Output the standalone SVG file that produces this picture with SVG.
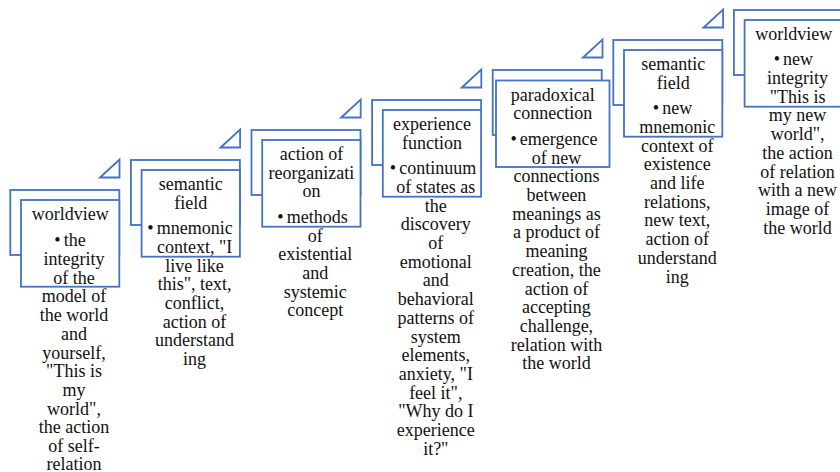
<svg xmlns="http://www.w3.org/2000/svg" width="840" height="472" viewBox="0 0 840 472">
<style>
.bk{fill:#fff;stroke:#4472C4;stroke-width:1.8}
.fr{fill:#fff;stroke:#4472C4;stroke-width:1.8}
.tri{fill:#fff;stroke:#4472C4;stroke-width:1.8;stroke-linejoin:miter}
.t{font-family:'Liberation Serif','Tinos','Times New Roman','DejaVu Serif',serif;font-size:18px;fill:#111;text-anchor:middle}
</style>
<rect width="840" height="472" fill="#fff"/>
<g id="connectors">
<polygon class="tri" points="100,177.5 119.5,159.5 119.5,177.5"/>
<polygon class="tri" points="220.6,147.5 240.1,129.5 240.1,147.5"/>
<polygon class="tri" points="341.2,117.5 360.7,99.5 360.7,117.5"/>
<polygon class="tri" points="461.8,87.5 481.3,69.5 481.3,87.5"/>
<polygon class="tri" points="583,57.5 602.5,39.5 602.5,57.5"/>
<polygon class="tri" points="703.6,27.5 723.1,9.5 723.1,27.5"/>
</g>
<g id="step1">
<rect class="bk" x="10.3" y="190" width="109" height="65"/>
<rect class="fr" x="21" y="200" width="98.3" height="86.7"/>
<text class="t"><tspan x="70.2" y="220">worldview</tspan><tspan x="70" y="246.3">•<tspan dx="3">the</tspan></tspan><tspan x="74" y="265">integrity</tspan><tspan x="74" y="283.7">of the</tspan><tspan x="74" y="302.4">model of</tspan><tspan x="74" y="321.1">the world</tspan><tspan x="74" y="339.8">and</tspan><tspan x="74" y="358.5">yourself,</tspan><tspan x="74" y="377.2">"This is</tspan><tspan x="74" y="395.9">my</tspan><tspan x="74" y="414.6">world",</tspan><tspan x="74" y="433.3">the action</tspan><tspan x="74" y="452">of self-</tspan><tspan x="74" y="470">relation</tspan></text>
</g>
<g id="step2">
<rect class="bk" x="130.9" y="160" width="109" height="65"/>
<rect class="fr" x="141.6" y="170" width="98.3" height="86.7"/>
<text class="t"><tspan x="190.8" y="190">semantic</tspan><tspan x="190.8" y="208.7">field</tspan><tspan x="190" y="234.2">•<tspan dx="3">mnemonic</tspan></tspan><tspan x="194.6" y="252.9">context, "I</tspan><tspan x="194.6" y="271.6">live like</tspan><tspan x="194.6" y="290.3">this", text,</tspan><tspan x="194.6" y="309">conflict,</tspan><tspan x="194.6" y="327.7">action of</tspan><tspan x="194.6" y="346.4">understand</tspan><tspan x="194.6" y="365.1">ing</tspan></text>
</g>
<g id="step3">
<rect class="bk" x="251.5" y="130" width="109" height="65"/>
<rect class="fr" x="262.2" y="140" width="98.3" height="86.7"/>
<text class="t"><tspan x="311.4" y="160">action of</tspan><tspan x="311.4" y="178.7">reorganizati</tspan><tspan x="311.4" y="197.4">on</tspan><tspan x="312.5" y="222.9">•<tspan dx="3">methods</tspan></tspan><tspan x="315.2" y="241.6">of</tspan><tspan x="315.2" y="260.3">existential</tspan><tspan x="315.2" y="279">and</tspan><tspan x="315.2" y="297.7">systemic</tspan><tspan x="315.2" y="316.4">concept</tspan></text>
</g>
<g id="step4">
<rect class="bk" x="372.1" y="100" width="109" height="65"/>
<rect class="fr" x="382.8" y="110" width="98.3" height="86.7"/>
<text class="t"><tspan x="432" y="130">experience</tspan><tspan x="432" y="148.7">function</tspan><tspan x="433" y="174.2">•<tspan dx="3">continuum</tspan></tspan><tspan x="435.8" y="192.9">of states as</tspan><tspan x="435.8" y="211.6">the</tspan><tspan x="435.8" y="230.3">discovery</tspan><tspan x="435.8" y="249">of</tspan><tspan x="435.8" y="267.7">emotional</tspan><tspan x="435.8" y="286.4">and</tspan><tspan x="435.8" y="305.1">behavioral</tspan><tspan x="435.8" y="323.8">patterns of</tspan><tspan x="435.8" y="342.5">system</tspan><tspan x="435.8" y="361.2">elements,</tspan><tspan x="435.8" y="379.9">anxiety, "I</tspan><tspan x="435.8" y="398.6">feel it",</tspan><tspan x="435.8" y="417.3">"Why do I</tspan><tspan x="435.8" y="436">experience</tspan><tspan x="435.8" y="454.7">it?"</tspan></text>
</g>
<g id="step5">
<rect class="bk" x="492.7" y="70" width="109" height="65"/>
<rect class="fr" x="496" y="80.5" width="113.5" height="86.5"/>
<text class="t"><tspan x="552.7" y="100.7">paradoxical</tspan><tspan x="552.7" y="119.4">connection</tspan><tspan x="554" y="144.9">•<tspan dx="3">emergence</tspan></tspan><tspan x="556.4" y="163.6">of new</tspan><tspan x="556.4" y="182.3">connections</tspan><tspan x="556.4" y="201">between</tspan><tspan x="556.4" y="219.7">meanings as</tspan><tspan x="556.4" y="238.4">a product of</tspan><tspan x="556.4" y="257.1">meaning</tspan><tspan x="556.4" y="275.8">creation, the</tspan><tspan x="556.4" y="294.5">action of</tspan><tspan x="556.4" y="313.2">accepting</tspan><tspan x="556.4" y="331.9">challenge,</tspan><tspan x="556.4" y="350.6">relation with</tspan><tspan x="556.4" y="369.3">the world</tspan></text>
</g>
<g id="step6">
<rect class="bk" x="613.3" y="40" width="109" height="65"/>
<rect class="fr" x="624" y="50" width="98.3" height="86.7"/>
<text class="t"><tspan x="673.2" y="70">semantic</tspan><tspan x="673.2" y="88.7">field</tspan><tspan x="672.5" y="114.2">•<tspan dx="3">new</tspan></tspan><tspan x="677.2" y="132.9">mnemonic</tspan><tspan x="677.2" y="151.6">context of</tspan><tspan x="677.2" y="170.3">existence</tspan><tspan x="677.2" y="189">and life</tspan><tspan x="677.2" y="207.7">relations,</tspan><tspan x="677.2" y="226.4">new text,</tspan><tspan x="677.2" y="245.1">action of</tspan><tspan x="677.2" y="263.8">understand</tspan><tspan x="677.2" y="282.5">ing</tspan></text>
</g>
<g id="step7">
<rect class="bk" x="733.9" y="10" width="109" height="65"/>
<rect class="fr" x="744.6" y="20" width="98.3" height="86.7"/>
<text class="t"><tspan x="793.8" y="40">worldview</tspan><tspan x="793.4" y="65.3">•<tspan dx="3">new</tspan></tspan><tspan x="797.6" y="84">integrity</tspan><tspan x="797.6" y="102.7">"This is</tspan><tspan x="797.6" y="121.4">my new</tspan><tspan x="797.6" y="140.1">world",</tspan><tspan x="797.6" y="158.8">the action</tspan><tspan x="797.6" y="177.5">of relation</tspan><tspan x="797.6" y="196.2">with a new</tspan><tspan x="797.6" y="214.9">image of</tspan><tspan x="797.6" y="233.6">the world</tspan></text>
</g>
</svg>
